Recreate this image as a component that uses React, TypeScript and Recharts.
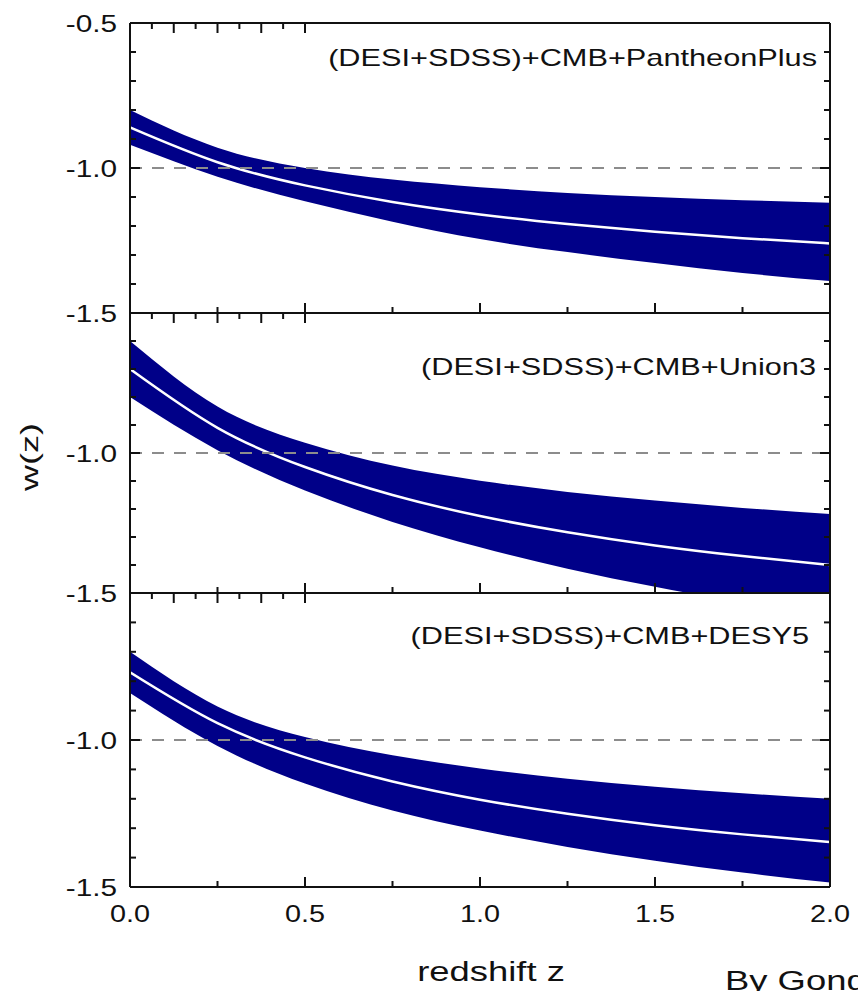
import React from "react";
import { ComposedChart, Area, Line, XAxis, YAxis, ReferenceLine } from "recharts";

// redshift grid shared by all three fits
const Z = [0, 0.25, 0.5, 0.75, 1.0, 1.25, 1.5, 1.75, 2.0];

// (DESI+SDSS)+CMB+PantheonPlus
const PANTHEON_MEAN = [-0.86, -0.98, -1.06, -1.117, -1.16, -1.193, -1.22, -1.242, -1.26];
const PANTHEON_UPPER = [-0.8, -0.93, -1.0, -1.04, -1.066, -1.086, -1.1, -1.111, -1.12];
const PANTHEON_LOWER = [-0.92, -1.03, -1.115, -1.185, -1.245, -1.29, -1.328, -1.362, -1.39];

// (DESI+SDSS)+CMB+Union3
const UNION_MEAN = [-0.7, -0.91, -1.05, -1.15, -1.225, -1.283, -1.33, -1.368, -1.4];
const UNION_UPPER = [-0.6, -0.834, -0.963, -1.045, -1.099, -1.139, -1.17, -1.196, -1.218];
const UNION_LOWER = [-0.8, -0.99, -1.134, -1.246, -1.337, -1.413, -1.478, -1.533, -1.58];

// (DESI+SDSS)+CMB+DESY5
const DESY5_MEAN = [-0.77, -0.943, -1.059, -1.141, -1.203, -1.251, -1.29, -1.321, -1.347];
const DESY5_UPPER = [-0.7, -0.886, -0.99, -1.052, -1.097, -1.132, -1.159, -1.181, -1.2];
const DESY5_LOWER = [-0.84, -1.02, -1.148, -1.24, -1.308, -1.364, -1.411, -1.451, -1.485];

const X_TICKS = [0, 0.25, 0.5, 0.75, 1.0, 1.25, 1.5, 1.75, 2.0];
const Y_TICKS = [-1.5, -1.4, -1.3, -1.2, -1.1, -1.0, -0.9, -0.8, -0.7, -0.6, -0.5];

const FONT = "'Liberation Sans', Arial, Helvetica, sans-serif";
const INK = "#111";
const BAND = "#000088";
const AXIS = { stroke: INK, strokeWidth: 2 };

const buildRows = (mean: number[], upper: number[], lower: number[]) =>
  Z.map((z, i) => ({ z, mean: mean[i], band: [lower[i], upper[i]] }));

const panels = [
  {
    title: "(DESI+SDSS)+CMB+PantheonPlus",
    rows: buildRows(PANTHEON_MEAN, PANTHEON_UPPER, PANTHEON_LOWER),
    yLabels: [-0.5, -1.0, -1.5],
    top: 23, bottom: 313, titleX: 817, titleY: 66,
  },
  {
    title: "(DESI+SDSS)+CMB+Union3",
    rows: buildRows(UNION_MEAN, UNION_UPPER, UNION_LOWER),
    yLabels: [-1.0, -1.5],
    top: 313, bottom: 593, titleX: 816, titleY: 375,
  },
  {
    title: "(DESI+SDSS)+CMB+DESY5",
    rows: buildRows(DESY5_MEAN, DESY5_UPPER, DESY5_LOWER),
    yLabels: [-1.0, -1.5],
    top: 593, bottom: 887, titleX: 809, titleY: 644,
  },
];

const isMajor = (v: number) => Math.abs(v * 2 - Math.round(v * 2)) < 1e-6;
const hasLabel = (list: number[], v: number) => list.some((l) => Math.abs(l - v) < 1e-6);

// tick marks point into the frame; dir is +1 (down/right) or -1 (up/left)
function XTick(props: any) {
  const { x, y, payload, dir, showLabel } = props;
  const v = payload.value;
  const len = isMajor(v) ? 10 : 6;
  return (
    <g>
      <line x1={x} x2={x} y1={y} y2={y + dir * len} stroke={INK} strokeWidth={2} />
      {showLabel && isMajor(v) && (
        <text
          transform={`translate(${x},${y + 35}) scale(1.2,1)`}
          textAnchor="middle"
          fontSize={24}
          fontFamily={FONT}
          fill={INK}
        >
          {v.toFixed(1)}
        </text>
      )}
    </g>
  );
}

function YTick(props: any) {
  const { x, y, payload, dir, labels } = props;
  const v = payload.value;
  const len = isMajor(v) ? 10 : 6;
  return (
    <g>
      <line x1={x} x2={x + dir * len} y1={y} y2={y} stroke={INK} strokeWidth={2} />
      {labels && hasLabel(labels, v) && (
        <text
          transform={`translate(${x - 13},${y}) scale(1.24,1)`}
          textAnchor="end"
          dy="0.36em"
          fontSize={24}
          fontFamily={FONT}
          fill={INK}
        >
          {v.toFixed(1)}
        </text>
      )}
    </g>
  );
}

function Panel({ panel, showX }: { panel: any; showX: boolean }) {
  const padTop = 20;
  const padBottom = showX ? 50 : 20;
  const h = panel.bottom - panel.top;
  // each axis takes 1px of room, so the margins are trimmed by one
  return (
    <div style={{ position: "absolute", left: 0, top: panel.top - padTop }}>
      <ComposedChart
        width={858}
        height={h + padTop + padBottom}
        data={panel.rows}
        margin={{ top: padTop - 1, bottom: padBottom - 1, left: 129, right: 27 }}
      >
        <Area
          xAxisId="b"
          yAxisId="l"
          type="natural"
          dataKey="band"
          stroke="none"
          fill={BAND}
          fillOpacity={1}
          isAnimationActive={false}
        />
        <Line
          xAxisId="b"
          yAxisId="l"
          type="natural"
          dataKey="mean"
          stroke="#ffffff"
          strokeWidth={2.5}
          dot={false}
          activeDot={false}
          isAnimationActive={false}
        />
        <ReferenceLine
          xAxisId="b"
          yAxisId="l"
          y={-1}
          stroke="#8c8c8c"
          strokeWidth={2}
          strokeDasharray="12 10"
        />
        <XAxis
          xAxisId="b"
          dataKey="z"
          type="number"
          domain={[0, 2]}
          ticks={X_TICKS}
          interval={0}
          height={1}
          tickSize={0}
          tickMargin={0}
          tickLine={false}
          axisLine={AXIS}
          allowDataOverflow
          tick={(p: any) => <XTick {...p} dir={-1} showLabel={showX} />}
        />
        <XAxis
          xAxisId="t"
          orientation="top"
          type="number"
          domain={[0, 2]}
          ticks={X_TICKS}
          interval={0}
          height={1}
          tickSize={0}
          tickMargin={0}
          tickLine={false}
          axisLine={AXIS}
          allowDataOverflow
          tick={(p: any) => <XTick {...p} dir={1} showLabel={false} />}
        />
        <YAxis
          yAxisId="l"
          type="number"
          domain={[-1.5, -0.5]}
          ticks={Y_TICKS}
          interval={0}
          width={1}
          tickSize={0}
          tickMargin={0}
          tickLine={false}
          axisLine={AXIS}
          allowDataOverflow
          tick={(p: any) => <YTick {...p} dir={1} labels={panel.yLabels} />}
        />
        <YAxis
          yAxisId="r"
          orientation="right"
          type="number"
          domain={[-1.5, -0.5]}
          ticks={Y_TICKS}
          interval={0}
          width={1}
          tickSize={0}
          tickMargin={0}
          tickLine={false}
          axisLine={AXIS}
          allowDataOverflow
          tick={(p: any) => <YTick {...p} dir={-1} />}
        />
      </ComposedChart>
    </div>
  );
}

export default function App() {
  return (
    <div
      style={{
        position: "absolute",
        left: 0,
        top: 0,
        width: 858,
        height: 991,
        background: "#ffffff",
        overflow: "hidden",
      }}
    >
      {panels.map((p, i) => (
        <Panel key={p.title} panel={p} showX={i === panels.length - 1} />
      ))}
      <svg
        width={858}
        height={991}
        style={{ position: "absolute", left: 0, top: 0, pointerEvents: "none" }}
      >
        {panels.map((p) => (
          <text
            key={p.title}
            transform={`translate(${p.titleX},${p.titleY}) scale(1.28,1)`}
            textAnchor="end"
            fontSize={24}
            fontFamily={FONT}
            fill={INK}
          >
            {p.title}
          </text>
        ))}
        <text
          transform="translate(38,457) rotate(-90) scale(1.5,1)"
          textAnchor="middle"
          fontSize={24}
          fontFamily={FONT}
          fill={INK}
        >
          w(z)
        </text>
        <text
          transform="translate(491,981) scale(1.3,1)"
          textAnchor="middle"
          fontSize={28}
          fontFamily={FONT}
          fill={INK}
        >
          redshift z
        </text>
        <text
          transform="translate(725,990) scale(1.3,1)"
          fontSize={28}
          fontFamily={FONT}
          fill={INK}
        >
          By Gong
        </text>
      </svg>
    </div>
  );
}
